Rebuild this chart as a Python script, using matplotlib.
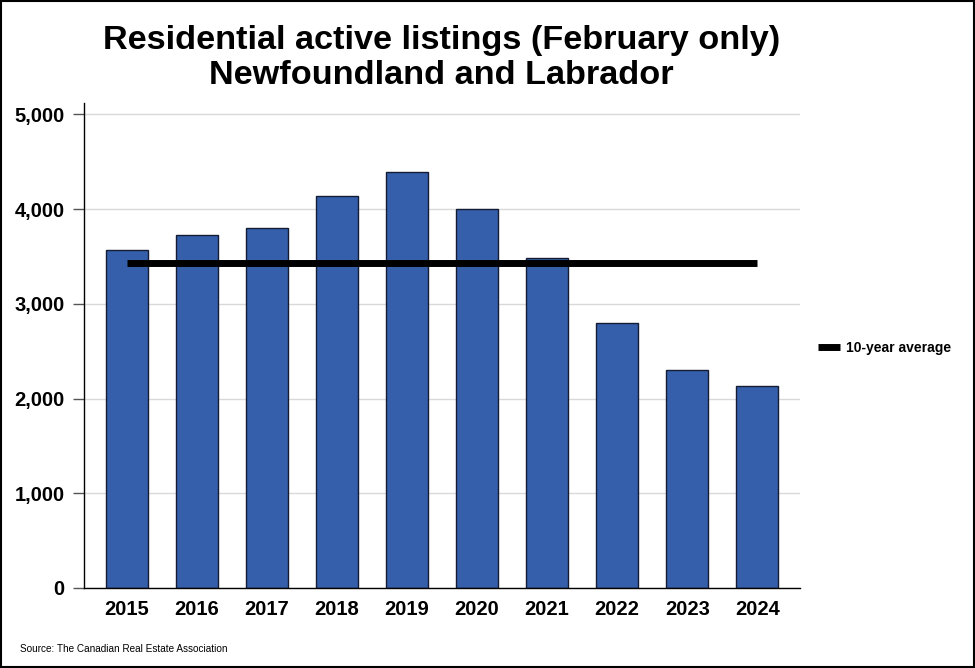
import numpy as np
import matplotlib.pyplot as plt
from matplotlib.patches import Rectangle

plt.rcParams['font.family'] = ['Liberation Sans', 'DejaVu Sans']

# February active listings, Newfoundland and Labrador
years = ['2015', '2016', '2017', '2018', '2019', '2020', '2021', '2022', '2023', '2024']
listings = [3565, 3724, 3797, 4135, 4388, 3998, 3481, 2795, 2300, 2131]
avg_10yr = np.mean(listings)

fig = plt.figure(figsize=(9.75, 6.68), dpi=100)
ax = fig.add_axes([0.0862, 0.1198, 0.7343, 0.726])

x = np.arange(len(years))
ax.bar(x, listings, width=0.6, color='#355fab', edgecolor='#141c33', linewidth=1, zorder=2)
ax.plot([x[0], x[-1]], [avg_10yr, avg_10yr], color='black', linewidth=5,
        solid_capstyle='butt', zorder=3, label='10-year average')

ax.set_xlim(-0.61, 9.61)
ax.set_ylim(0, 5120)
ax.set_yticks(np.arange(0, 5001, 1000))
ax.set_yticklabels([f'{v:,}' for v in range(0, 5001, 1000)])
ax.set_xticks(x)
ax.set_xticklabels(years)
ax.yaxis.grid(True, color='#d9d9d9', linewidth=1, zorder=0)
ax.set_axisbelow(True)

for s in ['top', 'right']:
    ax.spines[s].set_visible(False)
ax.spines['left'].set_linewidth(1)
ax.spines['bottom'].set_linewidth(1)
ax.tick_params(axis='y', length=8, width=1, color='#555555', pad=6, labelsize=14.5)
ax.tick_params(axis='x', length=0, pad=9, labelsize=14.5)
for lbl in ax.get_xticklabels() + ax.get_yticklabels():
    lbl.set_fontweight('bold')

fig.suptitle('Residential active listings (February only)\nNewfoundland and Labrador',
             fontsize=24.7, fontweight='bold', x=0.453, y=0.962, linespacing=1.15)

leg = ax.legend(loc='center left', bbox_to_anchor=(1.008, 0.495), frameon=False,
                handlelength=1.6, handletextpad=0.4, prop={'weight': 'bold', 'size': 10})

fig.text(0.02, 0.024, 'Source: The Canadian Real Estate Association', fontsize=7.2)

# frame around the whole picture
fig.patches.append(Rectangle((0.001, 0.001), 0.998, 0.997, transform=fig.transFigure,
                             fill=False, edgecolor='black', linewidth=1.5))

fig.savefig('out.png', dpi=100)
